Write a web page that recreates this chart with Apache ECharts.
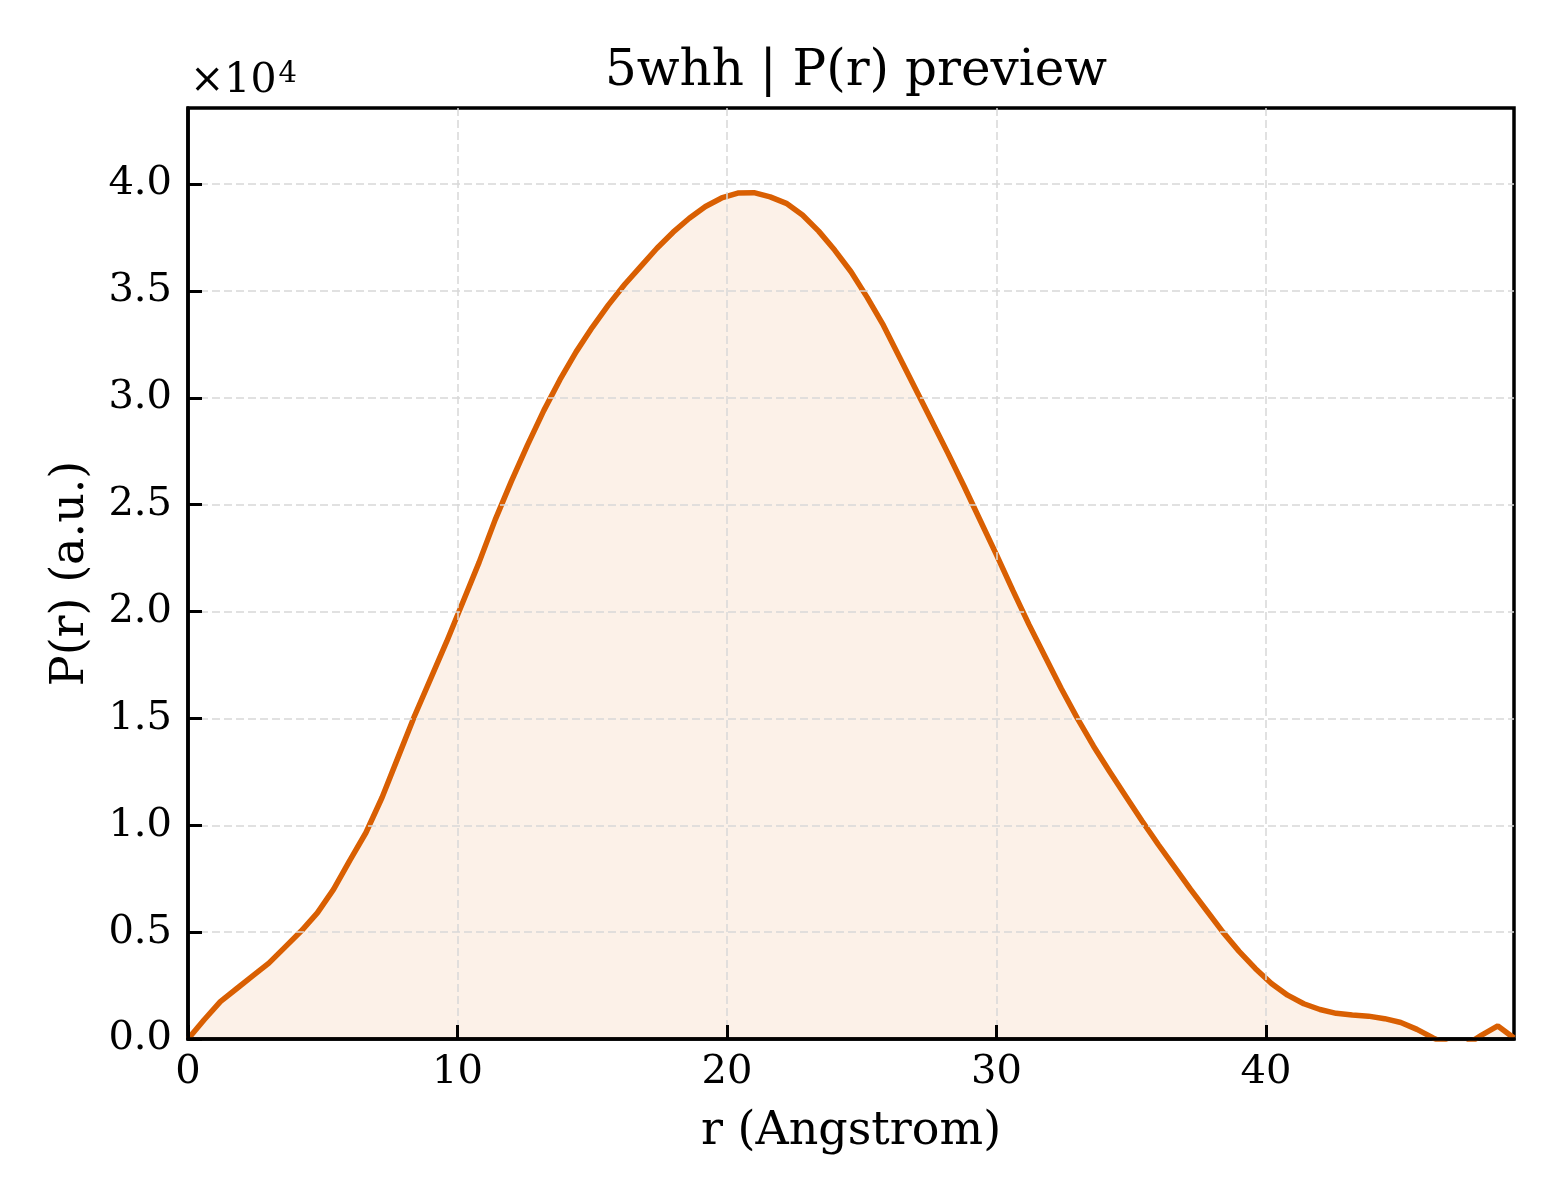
<!DOCTYPE html>
<html>
<head>
<meta charset="utf-8">
<script src="https://cdn.jsdelivr.net/npm/echarts@6/dist/echarts.min.js"></script>
<style>
  html, body { margin: 0; padding: 0; background: #fff; }
  #main { width: 1560px; height: 1200px; }
</style>
</head>
<body>
<div id="main"></div>
<script>
// r grid (Angstrom)
var rValues = [0.0, 0.6, 1.2, 1.8, 2.4, 3.0, 3.6, 4.2, 4.8, 5.4,
  6.0, 6.6, 7.2, 7.8, 8.4, 9.0, 9.6, 10.2, 10.8, 11.4,
  12.0, 12.6, 13.2, 13.8, 14.4, 15.0, 15.6, 16.2, 16.8, 17.4,
  18.0, 18.6, 19.2, 19.8, 20.4, 21.0, 21.6, 22.2, 22.8, 23.4,
  24.0, 24.6, 25.2, 25.8, 26.4, 27.0, 27.6, 28.2, 28.8, 29.4,
  30.0, 30.6, 31.2, 31.8, 32.4, 33.0, 33.6, 34.2, 34.8, 35.4,
  36.0, 36.6, 37.2, 37.8, 38.4, 39.0, 39.6, 40.2, 40.8, 41.4,
  42.0, 42.6, 43.2, 43.8, 44.4, 45.0, 45.6, 46.2, 46.8, 47.4,
  48.0, 48.6, 49.2];
// P(r), arbitrary units
var prValues = [0, 900, 1750, 2350, 2950, 3550, 4300, 5050, 5900, 7000,
  8350, 9650, 11300, 13200, 15100, 16850, 18600, 20450, 22300, 24300,
  26100, 27800, 29400, 30850, 32150, 33300, 34350, 35300, 36150, 37000,
  37750, 38400, 38950, 39350, 39580, 39600, 39400, 39100, 38550, 37800,
  36900, 35900, 34700, 33400, 31900, 30400, 28900, 27400, 25850, 24250,
  22650, 21000, 19400, 17900, 16400, 15000, 13700, 12500, 11350, 10200,
  9100, 8050, 7000, 6000, 5000, 4100, 3300, 2600, 2050, 1650,
  1380, 1200, 1120, 1070, 950, 770, 450, 50, -300, -300,
  180, 610, 50];
var xTicks = [0, 10, 20, 30, 40];
var yTicks = [0, 5000, 10000, 15000, 20000, 25000, 30000, 35000, 40000];

var lineColor = '#d95f02';
var fontFam = '"DejaVu Serif", serif';

var seriesData = [];
for (var i = 0; i < rValues.length; i++) {
  seriesData.push([rValues[i], prValues[i]]);
}

var chart = echarts.init(document.getElementById('main'));
chart.setOption({
  backgroundColor: '#ffffff',
  animation: false,
  title: {
    text: '5whh | P(r) preview',
    left: 851,
    top: 42,
    textAlign: 'center',
    textStyle: { fontFamily: fontFam, fontSize: 50, fontWeight: 'normal', color: '#000' }
  },
  graphic: [{
    type: 'text',
    left: 190,
    top: 60,
    style: {
      text: '{b|×10}{s|4}',
      rich: {
        b: { fontFamily: fontFam, fontSize: 41, color: '#000' },
        s: { fontFamily: fontFam, fontSize: 29, color: '#000', verticalAlign: 'top', padding: [0, 0, 14, 2] }
      }
    }
  }],
  grid: {
    left: 188, right: 46, top: 108, bottom: 161,
    show: true, borderColor: '#000', borderWidth: 3.5, backgroundColor: 'transparent'
  },
  xAxis: {
    type: 'value',
    min: 0,
    max: 49.2,
    interval: 10,
    z: 3,
    name: 'r (Angstrom)',
    nameLocation: 'middle',
    nameGap: 70,
    nameTextStyle: { fontFamily: fontFam, fontSize: 46, color: '#000' },
    axisLine: { show: true, onZero: false, lineStyle: { color: '#000', width: 3.5 } },
    axisTick: { show: true, inside: true, length: 14, lineStyle: { color: '#000', width: 3 },
      customValues: xTicks },
    axisLabel: { fontFamily: fontFam, fontSize: 40, color: '#000', margin: 14,
      customValues: xTicks, formatter: function (v) { return String(v); } },
    splitLine: { show: true, lineStyle: { color: '#d8d8d8', width: 1.5, type: [8, 4] } }
  },
  yAxis: {
    type: 'value',
    min: 0,
    max: 43560,
    interval: 5000,
    z: 3,
    name: 'P(r) (a.u.)',
    nameLocation: 'middle',
    nameGap: 94,
    nameTextStyle: { fontFamily: fontFam, fontSize: 46, color: '#000' },
    axisLine: { show: true, lineStyle: { color: '#000', width: 3.5 } },
    axisTick: { show: true, inside: true, length: 14, lineStyle: { color: '#000', width: 3 },
      customValues: yTicks },
    axisLabel: { fontFamily: fontFam, fontSize: 40, color: '#000', margin: 16,
      customValues: yTicks, formatter: function (v) { return (v / 10000).toFixed(1); } },
    splitLine: { show: true, lineStyle: { color: '#d8d8d8', width: 1.5, type: [8, 4] } }
  },
  series: [{
    type: 'line',
    data: seriesData,
    showSymbol: false,
    clip: true,
    lineStyle: { color: lineColor, width: 5.5 },
    areaStyle: { color: 'rgba(217,95,2,0.13)', origin: 'start' },
    z: 2
  }]
});
</script>
</body>
</html>
